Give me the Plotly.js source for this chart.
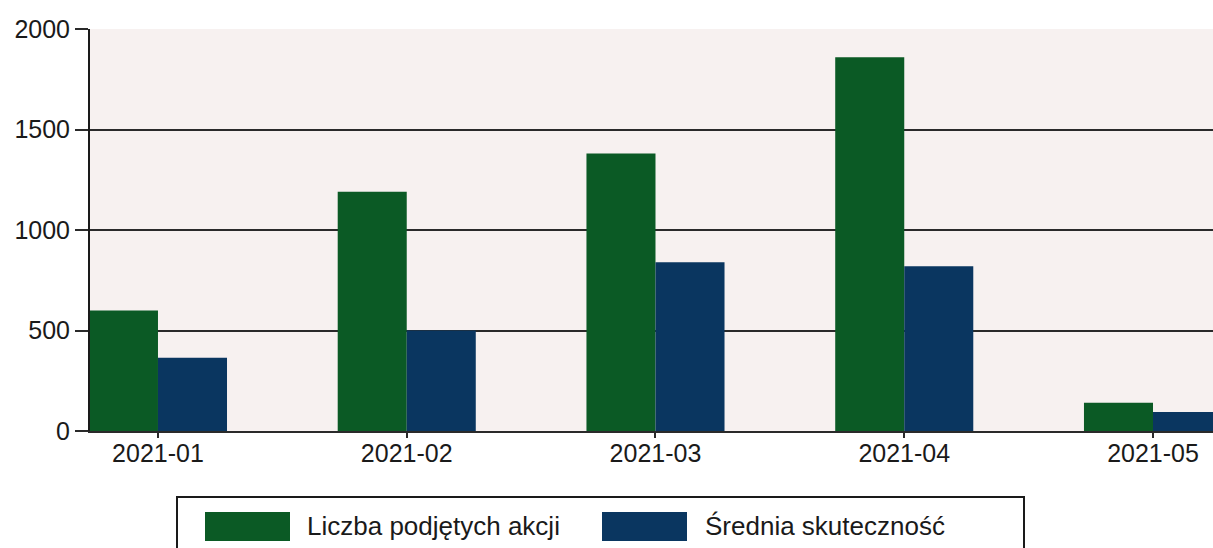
<!DOCTYPE html>
<html>
<head>
<meta charset="utf-8">
<script src="https://cdn.plot.ly/plotly-3.0.1.min.js"></script>
<style>
  html, body { margin: 0; padding: 0; background: #ffffff; }
  #chart { width: 1213px; height: 548px; }
</style>
</head>
<body>
<div id="chart"></div>
<script>
const categories = ["2021-01", "2021-02", "2021-03", "2021-04", "2021-05"];
const liczbaAkcji = [600, 1190, 1380, 1860, 140];
const sredniaSkutecznosc = [365, 500, 840, 820, 95];
const yTickValues = [0, 500, 1000, 1500, 2000];
const yTickLabels = ["0", "500", "1000", "1500", "2000"];
const seriesNames = ["Liczba podjętych akcji", "Średnia skuteczność"];
const seriesColors = ["#0b5a25", "#0a3660"];

const FONT = "Liberation Sans, Arial, sans-serif";

const traces = [
  {
    type: "bar", x: categories, y: liczbaAkcji, name: seriesNames[0],
    marker: { color: seriesColors[0], line: { width: 0 } }
  },
  {
    type: "bar", x: categories, y: sredniaSkutecznosc, name: seriesNames[1],
    marker: { color: seriesColors[1], line: { width: 0 } }
  }
];

// custom legend (paper coordinates)
const H = 402, W = 1123, L = 90, T0 = 431;
const px = v => (v - L) / W;
const py = v => (T0 - v) / H;

const shapes = [
  { type: "rect", xref: "paper", yref: "paper", x0: px(177), x1: px(1024), y0: py(565), y1: py(497),
    line: { color: "#1a1a1a", width: 2 }, fillcolor: "rgba(0,0,0,0)" },
  { type: "rect", xref: "paper", yref: "paper", x0: px(205), x1: px(290), y0: py(541), y1: py(512),
    line: { width: 0 }, fillcolor: seriesColors[0] },
  { type: "rect", xref: "paper", yref: "paper", x0: px(602), x1: px(687), y0: py(541), y1: py(512),
    line: { width: 0 }, fillcolor: seriesColors[1] }
];

const annotations = [
  { xref: "paper", yref: "paper", x: px(305), y: py(526), xanchor: "left", yanchor: "middle",
    text: seriesNames[0], showarrow: false, font: { family: FONT, size: 26, color: "#1a1a1a" } },
  { xref: "paper", yref: "paper", x: px(703), y: py(526), xanchor: "left", yanchor: "middle",
    text: seriesNames[1], showarrow: false, font: { family: FONT, size: 26, color: "#1a1a1a" } }
];

const layout = {
  width: 1213, height: 548,
  margin: { l: 90, r: 0, t: 29, b: 117, pad: 0 },
  paper_bgcolor: "#ffffff",
  plot_bgcolor: "#f7f1f0",
  showlegend: false,
  barmode: "group",
  bargap: 0.445,
  bargroupgap: 0,
  font: { family: FONT, color: "#1a1a1a" },
  xaxis: {
    type: "category",
    range: [-0.2733, 4.2412],
    showline: true, linecolor: "#2a2a2a", linewidth: 2,
    ticks: "outside", ticklen: 5, tickwidth: 2, tickcolor: "#2a2a2a",
    ticklabelstandoff: -6,
    tickfont: { family: FONT, size: 25, color: "#1a1a1a" },
    showgrid: false, zeroline: false
  },
  yaxis: {
    range: [0, 2000],
    tickvals: yTickValues, ticktext: yTickLabels,
    showgrid: true, gridcolor: "#2a2a2a", gridwidth: 2,
    showline: true, linecolor: "#1a1a1a", linewidth: 2,
    ticks: "outside", ticklen: 13, tickwidth: 2, tickcolor: "#2a2a2a",
    ticklabelstandoff: 0,
    tickfont: { family: FONT, size: 25, color: "#1a1a1a" },
    zeroline: false
  },
  shapes: shapes,
  annotations: annotations
};

Plotly.newPlot("chart", traces, layout, { displayModeBar: false, staticPlot: true });
</script>
</body>
</html>
